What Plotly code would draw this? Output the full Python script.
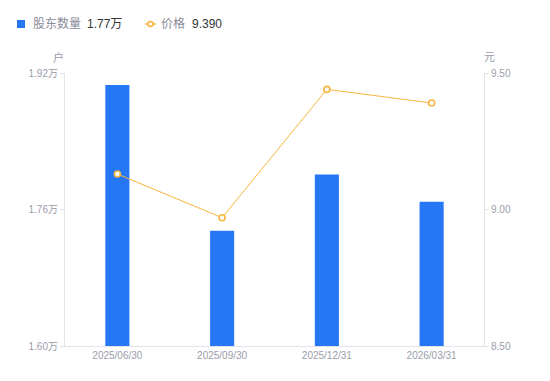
import plotly.graph_objects as go

categories = ["2025/06/30", "2025/09/30", "2025/12/31", "2026/03/31"]
holders = [19060, 17350, 18010, 17690]
prices = [9.13, 8.97, 9.44, 9.39]
left_ticks = [16000, 17600, 19200]
left_labels = ["1.60万", "1.76万", "1.92万"]
right_ticks = [8.5, 9.0, 9.5]

BLUE = "#2577F6"
ORANGE = "#F7B53F"
GRAY = "#9b9cab"
AXIS = "#e3e4ea"
FONT = "Liberation Sans, Noto Sans CJK SC, sans-serif"

fig = go.Figure()
fig.add_trace(go.Bar(x=categories, y=holders, marker=dict(color=BLUE, line=dict(width=0)),
                     width=0.23, name="股东数量", yaxis="y"))
fig.add_trace(go.Scatter(x=categories, y=prices, mode="lines+markers", name="价格", yaxis="y2",
                         line=dict(color=ORANGE, width=1),
                         marker=dict(symbol="circle", size=6, color="white",
                                     line=dict(color=ORANGE, width=1.6))))

# page body has an 8px margin, so the figure is 8px smaller and offset
fig.update_layout(
    width=542, height=373,
    margin=dict(l=57, r=66, t=65, b=35),
    paper_bgcolor="white", plot_bgcolor="white",
    showlegend=False,
    font=dict(family=FONT, size=10, color=GRAY),
    xaxis=dict(showgrid=False, showline=True, linecolor=AXIS, linewidth=1,
               ticks="", tickfont=dict(size=10, color=GRAY), zeroline=False),
    yaxis=dict(range=[16000, 19200], tickvals=left_ticks, ticktext=left_labels,
               showgrid=False, showline=True, linecolor=AXIS, linewidth=1,
               ticks="outside", ticklen=4, tickcolor=AXIS, zeroline=False,
               tickfont=dict(size=10, color=GRAY)),
    yaxis2=dict(range=[8.5, 9.5], tickvals=right_ticks, tickformat=".2f",
                overlaying="y", side="right", showgrid=False, showline=True,
                linecolor=AXIS, linewidth=1, ticks="outside", ticklen=4,
                tickcolor=AXIS, zeroline=False, tickfont=dict(size=10, color=GRAY)),
)

# axis unit labels
fig.add_annotation(xref="paper", yref="paper", x=-0.015, y=1.0, yshift=16, text="户",
                   showarrow=False, font=dict(size=11, color=GRAY), xanchor="center", yanchor="middle")
fig.add_annotation(xref="paper", yref="paper", x=1.013, y=1.0, yshift=16, text="元",
                   showarrow=False, font=dict(size=11, color=GRAY), xanchor="center", yanchor="middle")

# custom legend
LY = 1 + 49 / 273
fig.add_shape(type="rect", xref="paper", yref="paper", x0=-48/419, x1=-40/419,
              y0=LY - 4/273, y1=LY + 4/273, fillcolor=BLUE, line=dict(width=0), layer="above")
fig.add_annotation(xref="paper", yref="paper", x=-34/419, y=LY, text="股东数量",
                   showarrow=False, xanchor="left", yanchor="middle",
                   font=dict(size=12, color="#8a8b99"))
fig.add_annotation(xref="paper", yref="paper", x=20/419, y=LY, text="1.77万",
                   showarrow=False, xanchor="left", yanchor="middle",
                   font=dict(size=12, color="#333333"))
fig.add_shape(type="line", xref="paper", yref="paper", x0=80/419, x1=91/419,
              y0=LY, y1=LY, line=dict(color=ORANGE, width=1.5))
fig.add_shape(type="circle", xref="paper", yref="paper", x0=83/419, x1=88/419,
              y0=LY - 2.5/273, y1=LY + 2.5/273, fillcolor="white", line=dict(color=ORANGE, width=1.6))
fig.add_annotation(xref="paper", yref="paper", x=94/419, y=LY, text="价格",
                   showarrow=False, xanchor="left", yanchor="middle",
                   font=dict(size=12, color="#8a8b99"))
fig.add_annotation(xref="paper", yref="paper", x=125/419, y=LY, text="9.390",
                   showarrow=False, xanchor="left", yanchor="middle",
                   font=dict(size=12, color="#333333"))

fig.write_html("out.html")
